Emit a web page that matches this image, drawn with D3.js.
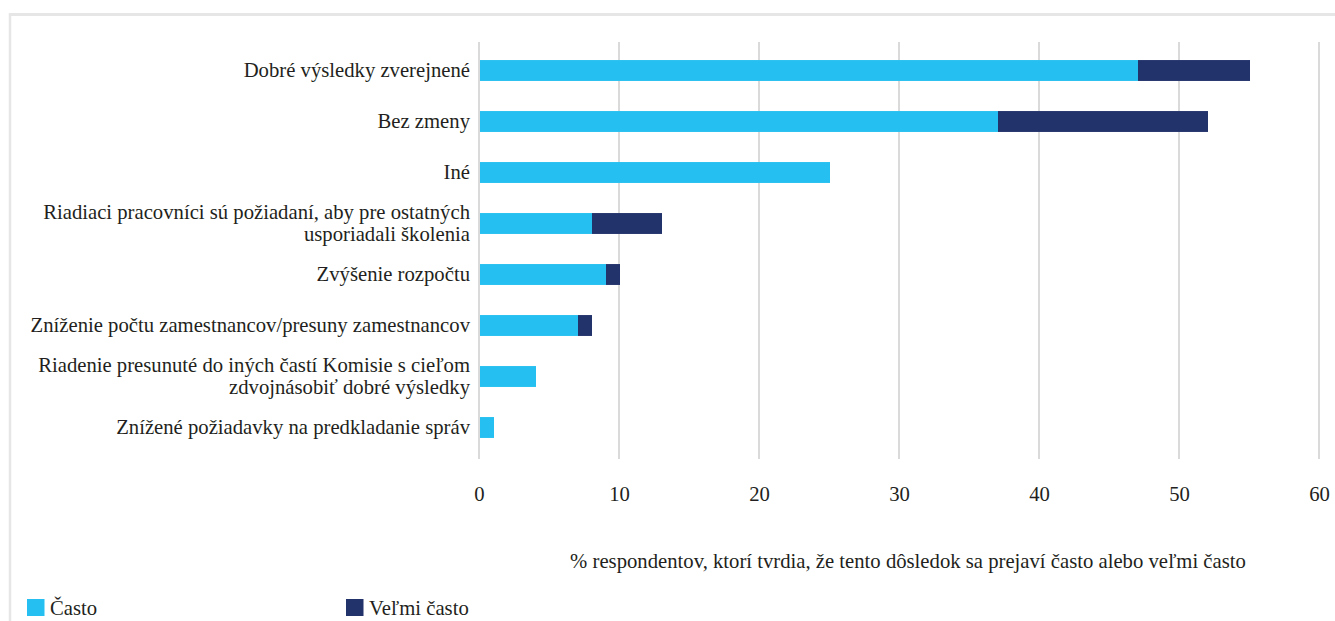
<!DOCTYPE html>
<html><head><meta charset="utf-8">
<script src="https://cdn.jsdelivr.net/npm/d3@7"></script>
<style>body{margin:0;background:#fff}svg{display:block}</style>
</head><body>
<svg id="c" width="1335" height="621" style="font-family:'Liberation Serif','DejaVu Serif',serif"></svg>
<script>
const categories = [
  ["Dobré výsledky zverejnené"],
  ["Bez zmeny"],
  ["Iné"],
  ["Riadiaci pracovníci sú požiadaní, aby pre ostatných", "usporiadali školenia"],
  ["Zvýšenie rozpočtu"],
  ["Zníženie počtu zamestnancov/presuny zamestnancov"],
  ["Riadenie presunuté do iných častí Komisie s cieľom", "zdvojnásobiť dobré výsledky"],
  ["Znížené požiadavky na predkladanie správ"]
];
const casto = [47, 37, 25, 8, 9, 7, 4, 1];
const velmiCasto = [8, 15, 0, 5, 1, 1, 0, 0];
const seriesNames = ["Často", "Veľmi často"];
const colors = ["#25c0f1", "#22336b"];
const xTicks = [0, 10, 20, 30, 40, 50, 60];
const axisTitle = "% respondentov, ktorí tvrdia, že tento dôsledok sa prejaví často alebo veľmi často";

const FONT = "'Liberation Serif','DejaVu Serif',serif";
const TXT = "#231f20";
const FS = 20.7;
const svg = d3.select("#c");
// frame
svg.append("line").attr("x1",10).attr("x2",10).attr("y1",13).attr("y2",621).attr("stroke","#e6e6e6").attr("stroke-width",2.5);
svg.append("line").attr("x1",9).attr("x2",1335).attr("y1",14.5).attr("y2",14.5).attr("stroke","#e6e6e6").attr("stroke-width",3);

const x = d3.scaleLinear().domain([0,60]).range([479,1319]);
const y = d3.scaleBand().domain(d3.range(categories.length)).range([45,453]).paddingInner(0.59).paddingOuter(0.295);

// gridlines
svg.append("g").selectAll("line").data(xTicks).join("line")
  .attr("x1",d=>x(d)).attr("x2",d=>x(d)).attr("y1",42).attr("y2",459)
  .attr("stroke","#dadada").attr("stroke-width",2);

const stackData = categories.map((c,i)=>({i, casto:casto[i], velmi:velmiCasto[i]}));
const stack = d3.stack().keys(["casto","velmi"])(stackData);
svg.append("g").selectAll("g").data(stack).join("g").attr("fill",(d,k)=>colors[k])
  .selectAll("rect").data(d=>d.filter(s=>s[1]-s[0]>0)).join("rect")
  .attr("x",d=>x(d[0])+1).attr("width",d=>x(d[1])-x(d[0]))
  .attr("y",d=>y(d.data.i)).attr("height",y.bandwidth());

function txt(sel){ return sel.style("font-family",FONT).attr("fill",TXT); }

// category labels
const lab = svg.append("g").attr("text-anchor","end");
categories.forEach((lines,i)=>{
  const cy = y(i)+y.bandwidth()/2;
  const n = lines.length, lh = 22;
  lines.forEach((t,j)=>{
    txt(lab.append("text")).attr("font-size",FS).attr("x",470).attr("y",cy + (j-(n-1)/2)*lh).attr("dy","0.33em").text(t);
  });
});

// x axis labels
const xa = d3.axisBottom(x).tickValues(xTicks).tickSize(0).tickPadding(0);
const gx = svg.append("g").attr("transform","translate(0,494)").call(xa);
gx.select(".domain").remove();
txt(gx.selectAll("text")).attr("font-size",FS).attr("dy","0.33em");

txt(svg.append("text")).attr("x",908).attr("y",561).attr("dy","0.33em").attr("text-anchor","middle").attr("font-size",FS).text(axisTitle);

// legend
const legX = [27, 346];
seriesNames.forEach((s,k)=>{
  svg.append("rect").attr("x",legX[k]).attr("y",599).attr("width",17.5).attr("height",17).attr("fill",colors[k]);
  txt(svg.append("text")).attr("x",legX[k]+23).attr("y",608).attr("dy","0.33em").attr("font-size",FS).text(s);
});
</script>
</body></html>
